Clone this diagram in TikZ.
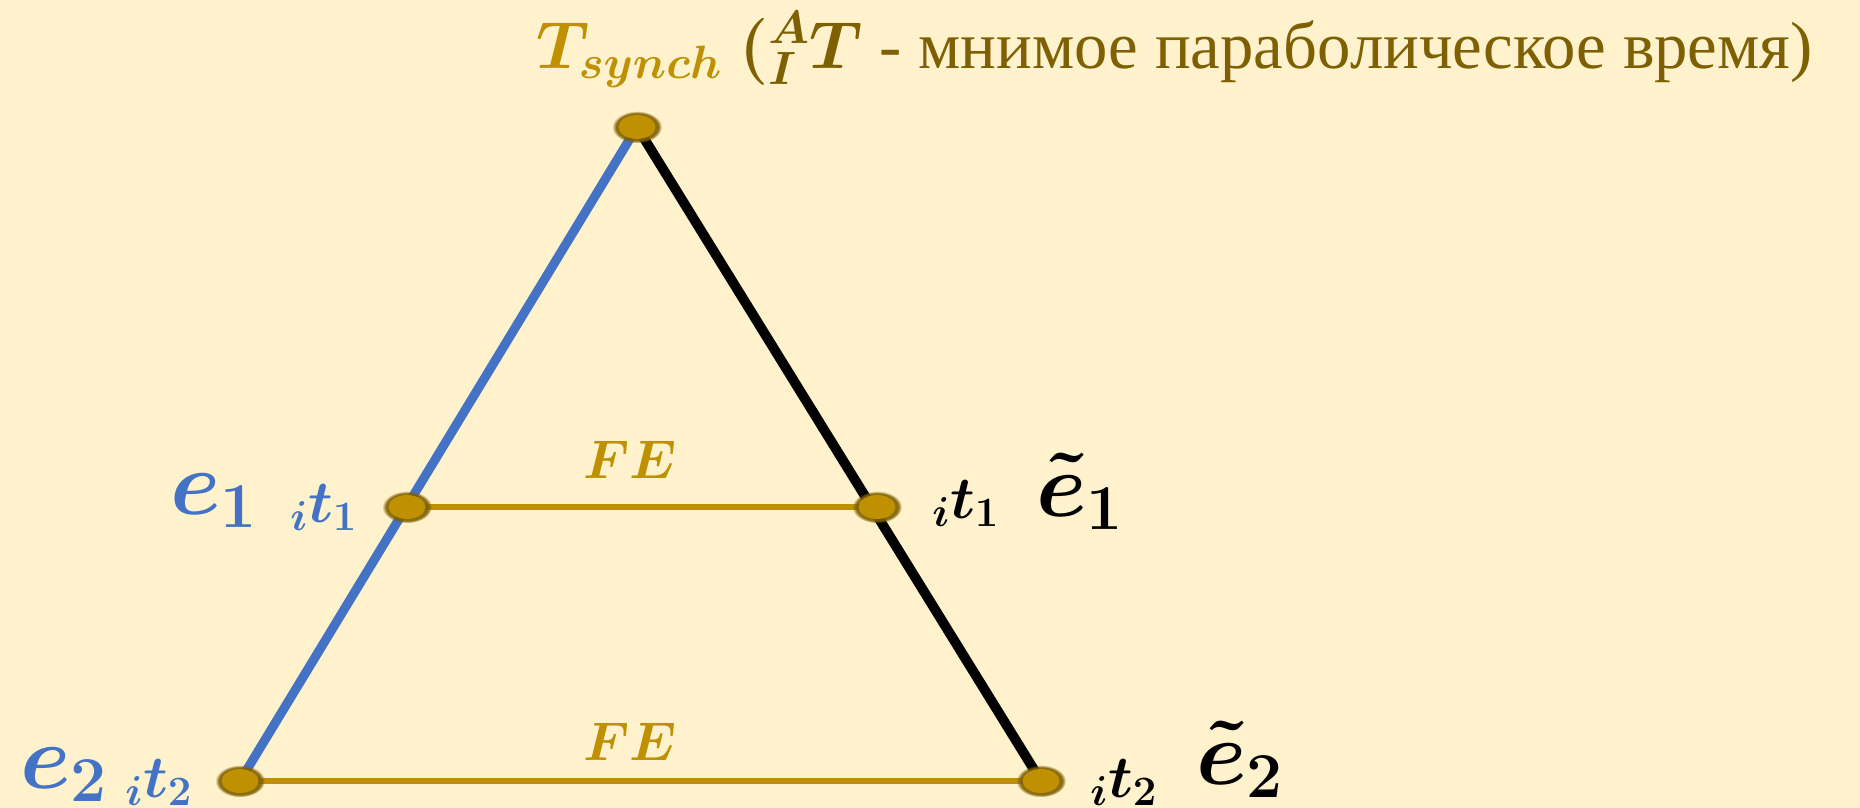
\documentclass[tikz,border=0pt]{standalone}
\usepackage{fix-cm}
\usepackage[no-math]{fontspec}
\setmainfont{Liberation Serif}
\usepackage{bm}
\usetikzlibrary{shapes.geometric,shadows,calc}

\definecolor{bgyellow}{HTML}{FFF2CC}
\definecolor{edgeblue}{HTML}{4472C4}
\definecolor{fegold}{HTML}{BF9000}
\definecolor{darkgold}{HTML}{7F6000}

\begin{document}
\begin{tikzpicture}[x=0.02cm, y=-0.02cm,
		dot/.style={ellipse, fill=fegold, inner sep=0pt, minimum width=21pt, minimum height=13.6pt, circular glow={fill=darkgold, opacity=0.9, shadow scale=1.35}},
		big/.style={font=\fontsize{52}{60}\selectfont, anchor=base west, inner sep=0pt},
		small/.style={font=\fontsize{34}{40}\selectfont, anchor=base west, inner sep=0pt}]
	% 1. 背景与顶点
	\useasboundingbox[fill=bgyellow] (0,0) rectangle (1860,808);
	\coordinate (apex) at (637,127);
	\coordinate (lowL) at (240,781);
	\coordinate (lowR) at (1041,781);
	\coordinate (midL) at (407,507);
	\coordinate (midR) at (877,507);
	
	% 2. 三角形的边与 FE 线
	\draw[edgeblue, line width=5.2pt] (apex) -- (lowL);
	\draw[black, line width=5.6pt] (apex) -- (lowR);
	\draw[fegold, line width=3.4pt] (midL) -- (midR);
	\draw[fegold, line width=3.4pt] (lowL) -- (lowR);
	\node[font=\fontsize{31}{36}\selectfont, fegold, anchor=base, inner sep=0pt] (fe1) at (630,478) {$\bm{FE}$};
	\node[font=\fontsize{31}{36}\selectfont, fegold, anchor=base, inner sep=0pt] (fe2) at (630,760) {$\bm{FE}$};
	
	% 3. 点
	\foreach \p in {apex,lowL,lowR,midL,midR}
		\node[dot] (dot-\p) at (\p) {};
	
	% 4. 标注
	\node[font=\fontsize{38}{44}\selectfont, anchor=base west, inner sep=0pt] (title) at (536,68)
		{\textcolor{fegold}{$\bm{T_{synch}}$} \textcolor{darkgold}{$\bm{(^A_IT}$ - мнимое параболическое время)}};
	\node[big, edgeblue] (e1) at (170,514) {$\bm{e_1}$};
	\node[small, edgeblue] (t1L) at (290,522) {$\bm{{}_it_1}$};
	\node[small] (t1R) at (932,518) {$\bm{{}_it_1}$};
	\node[big] (te1) at (1036,516) {$\bm{\tilde{e}_1}$};
	\node[big, edgeblue] (e2) at (20,788) {$\bm{e_2}$};
	\node[small, edgeblue] (t2L) at (125,797) {$\bm{{}_it_2}$};
	\node[small] (t2R) at (1090,797) {$\bm{{}_it_2}$};
	\node[big] (te2) at (1196,784) {$\bm{\tilde{e}_2}$};
\end{tikzpicture}
\end{document}
